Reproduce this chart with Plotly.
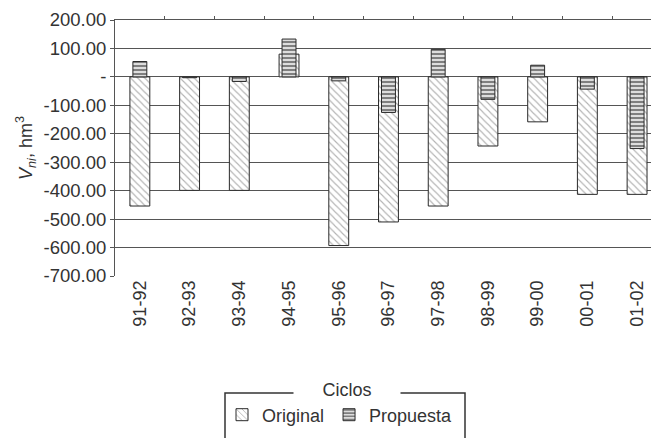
import plotly.graph_objects as go

categories = ["91-92", "92-93", "93-94", "94-95", "95-96", "96-97",
              "97-98", "98-99", "99-00", "00-01", "01-02"]
original = [-454, -399, -399, 80, -593, -510, -454, -243, -158, -413, -413]
propuesta = [54, -3, -16, 133, -14, -125, 97, -79, 41, -43, -252]

ytick_vals = [200, 100, 0, -100, -200, -300, -400, -500, -600, -700]
ytick_text = ["200.00", "100.00", "-", "-100.00", "-200.00", "-300.00",
              "-400.00", "-500.00", "-600.00", "-700.00"]
grid_vals = [100, 0, -100, -200, -300, -400, -500, -600]

FONT = "Liberation Sans, Arial, sans-serif"
TXT = "#333333"
W, H = 651, 438
L, R, T, B = 115, 0, 20, 162
pw, ph = W - L - R, H - T - B

def px_x(p):
    return (p - L) / pw

def px_y(p):
    return (H - B - p) / ph

xr = [-0.5, 10.28]
yr = [-700, 200]

fig = go.Figure()
fig.add_trace(go.Bar(
    x=categories, y=original, name="Original", width=0.4,
    marker=dict(color="white",
                line=dict(color="#2a2a2a", width=1),
                pattern=dict(shape="\\", size=5, solidity=0.22,
                             fgcolor="#666666", bgcolor="white")),
))
fig.add_trace(go.Bar(
    x=categories, y=propuesta, name="Propuesta", width=0.28,
    marker=dict(color="#dddddd",
                line=dict(color="#2a2a2a", width=1),
                pattern=dict(shape="-", size=4, solidity=0.5,
                             fgcolor="#222222", bgcolor="#dddddd")),
))
# empty helper trace so the frame/grid axes get drawn
fig.add_trace(go.Scatter(x=[None], y=[None], xaxis="x2", yaxis="y2",
                         showlegend=False, hoverinfo="skip"))

fig.update_layout(
    width=W, height=H,
    margin=dict(l=L, r=R, t=T, b=B, autoexpand=False),
    paper_bgcolor="white", plot_bgcolor="white",
    barmode="overlay",
    font=dict(family=FONT, size=18, color=TXT),
    showlegend=True,
    legend=dict(orientation="h", x=px_x(222), xanchor="left",
                y=px_y(415), yanchor="middle",
                font=dict(family=FONT, size=18, color=TXT),
                bgcolor="rgba(0,0,0,0)", itemwidth=30,
                tracegroupgap=0),
    xaxis=dict(type="category", range=xr, showline=False, ticks="",
               showgrid=False, zeroline=False, tickangle=-90,
               tickfont=dict(family=FONT, size=18, color=TXT)),
    xaxis2=dict(overlaying="x", side="top", anchor="y2", range=xr,
                showline=True, linecolor="#555555", linewidth=1,
                tickmode="array",
                tickvals=[i + 0.5 for i in range(len(categories) - 1)],
                showticklabels=False, ticks="outside", ticklen=3,
                tickcolor="#555555", showgrid=False, zeroline=False),
    yaxis=dict(range=yr, tickmode="array", tickvals=ytick_vals,
               ticktext=ytick_text, showgrid=False, zeroline=False,
               showline=True, linecolor="#555555", linewidth=1,
               ticks="outside", ticklen=4, tickcolor="#555555",
               tickfont=dict(family=FONT, size=18.5, color=TXT),
               title=dict(text="<i>V<sub>ni</sub></i>, hm<sup>3</sup>",
                          standoff=6,
                          font=dict(family=FONT, size=18, color=TXT))),
    yaxis2=dict(overlaying="y", anchor="x2", side="left", range=yr,
                tickmode="array", tickvals=grid_vals,
                showticklabels=False, showgrid=True,
                gridcolor="#555555", gridwidth=1, zeroline=False,
                showline=False, ticks=""),
    shapes=[dict(type="rect", xref="paper", yref="paper",
                 x0=px_x(225), x1=px_x(465), y0=px_y(393), y1=px_y(450),
                 line=dict(color="#333333", width=1.5),
                 fillcolor="rgba(0,0,0,0)", layer="above")],
    annotations=[dict(text="Ciclos", xref="paper", yref="paper",
                      x=px_x(347), y=px_y(390), showarrow=False,
                      bgcolor="white", borderpad=1, width=104,
                      font=dict(family=FONT, size=18, color=TXT),
                      xanchor="center", yanchor="middle")],
)

fig.write_html("out.html",
               config={"displayModeBar": False},
               post_script="document.body.style.margin='0';"
                           "document.body.style.padding='0';")
